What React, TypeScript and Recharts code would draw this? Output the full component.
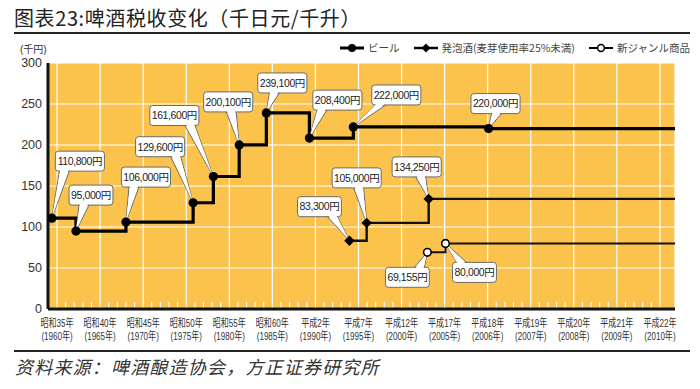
import React from "react";
import {
  LineChart,
  Line,
  XAxis,
  YAxis,
  CartesianGrid,
  ReferenceLine
} from "recharts";

// x axis categories (evenly spaced, not to time scale)
const eraLabels = [
  "昭和35年", "昭和40年", "昭和45年", "昭和50年", "昭和55年", "昭和60年",
  "平成2年", "平成7年", "平成12年", "平成17年", "平成18年", "平成19年",
  "平成20年", "平成21年", "平成22年"
];
const yearLabels = [
  "(1960年)", "(1965年)", "(1970年)", "(1975年)", "(1980年)", "(1985年)",
  "(1990年)", "(1995年)", "(2000年)", "(2005年)", "(2006年)", "(2007年)",
  "(2008年)", "(2009年)", "(2010年)"
];
const yTicks = [0, 50, 100, 150, 200, 250, 300];

// ビール
const beerX = [-0.12, 0.44, 1.6, 3.16, 3.63, 4.23, 4.86, 5.86, 6.88, 10.02, 14.35];
const beerY = [110.8, 95, 106, 129.6, 161.6, 200.1, 239.1, 208.4, 222, 220, 220];
const beerLabels = [
  "110,800円", "95,000円", "106,000円", "129,600円", "161,600円", "200,100円",
  "239,100円", "208,400円", "222,000円", "220,000円", ""
];

// 発泡酒
const happoX = [6.79, 7.19, 8.63, 14.35];
const happoY = [83.3, 105, 134.25, 134.25];
const happoLabels = ["83,300円", "105,000円", "134,250円", ""];

// 新ジャンル商品
const newX = [8.6, 9.02, 14.35];
const newY = [69.155, 80, 80];
const newLabels = ["69,155円", "80,000円", ""];

// where each callout box sits relative to its point (px)
const calloutOffsets: Record<string, [number, number]> = {
  "110,800円": [28, -57],
  "95,000円": [15, -36],
  "106,000円": [20, -45],
  "129,600円": [-33, -56],
  "161,600円": [-39, -61],
  "200,100円": [-11, -43],
  "239,100円": [16, -30],
  "208,400円": [28, -38],
  "222,000円": [43, -32],
  "220,000円": [7, -25],
  "83,300円": [-30, -34],
  "105,000円": [-10, -45],
  "134,250円": [-12, -32],
  "69,155円": [-20, 25],
  "80,000円": [29, 29]
};

const ORANGE = "#FBC24C";
const FONT = "'Liberation Sans', 'Noto Sans CJK JP', sans-serif";
const CJK = "'Noto Sans CJK SC', 'Noto Sans CJK JP', sans-serif";

const toRows = (xs: number[], ys: number[], labels: string[]) =>
  xs.map((x, i) => ({ x, y: ys[i], label: labels[i] }));

const beerData = toRows(beerX, beerY, beerLabels);
const happoData = toRows(happoX, happoY, happoLabels);
const newData = toRows(newX, newY, newLabels);

const xTicks = eraLabels.map((_, i) => i);
const minorTicks: number[] = [];
for (let i = 0; i < eraLabels.length - 1; i++) {
  for (let k = 1; k < 5; k++) minorTicks.push(i + k / 5);
}

function textWidth(s: string) {
  let w = 0;
  for (const c of s) {
    if (/[0-9]/.test(c)) w += 5.2;
    else if (c === ",") w += 2.4;
    else if (c === "(" || c === ")") w += 3.5;
    else w += 9.5;
  }
  return w;
}

function Callout({ px, py, text }: { px: number; py: number; text: string }) {
  const off = calloutOffsets[text];
  if (!off) return null;
  const [dx, dy] = off;
  const w = textWidth(text) + 6;
  const h = 20;
  const cx = px + dx;
  const cy = py + dy;
  const left = cx - w / 2;
  const right = cx + w / 2;
  const lean = dx > 0 ? 8 : -8;
  const bx = Math.max(left + 9, Math.min(right - 9, px + lean));
  const by = dy < 0 ? cy + h / 2 : cy - h / 2;
  const inset = dy < 0 ? -1.2 : 1.2;
  const tail = `${bx - 5},${by} ${bx + 5},${by} ${px},${py}`;
  const tailInner = `${bx - 4},${by + inset} ${bx + 4},${by + inset} ${px},${py}`;
  return (
    <g>
      <polygon points={tail} fill="#fff" stroke="#6b6b6b" strokeWidth={1} />
      <rect x={left} y={cy - h / 2} width={w} height={h} rx={3} fill="#fff" stroke="#6b6b6b" strokeWidth={1} />
      <polygon points={tailInner} fill="#fff" />
      <text
        x={cx}
        y={cy + 3.8}
        textAnchor="middle"
        fontSize={10.5}
        fontFamily={FONT}
        fill="#222"
        letterSpacing={-0.4}
      >
        {text}
      </text>
    </g>
  );
}

function makeDot(kind: "circle" | "diamond" | "open") {
  return (props: any) => {
    const { cx, cy, payload, index } = props;
    if (!payload || !payload.label) return <g key={`d-${kind}-${index}`} />;
    let mark;
    if (kind === "circle") mark = <circle cx={cx} cy={cy} r={4.6} fill="#000" />;
    else if (kind === "diamond")
      mark = (
        <polygon
          points={`${cx},${cy - 5.2} ${cx + 5.2},${cy} ${cx},${cy + 5.2} ${cx - 5.2},${cy}`}
          fill="#000"
        />
      );
    else mark = <circle cx={cx} cy={cy} r={3.8} fill="#fff" stroke="#000" strokeWidth={1.6} />;
    return (
      <g key={`d-${kind}-${index}`}>
        <Callout px={cx} py={cy} text={payload.label} />
        {mark}
      </g>
    );
  };
}

// condensed two-line category label
function XTick(props: any) {
  const { x, y, payload } = props;
  const i = payload.value;
  const era = eraLabels[i];
  const yr = yearLabels[i];
  if (era === undefined) return null;
  return (
    <g transform={`translate(${x},${y}) scale(0.7,1)`}>
      <text y={18} textAnchor="middle" fontSize={11.5} fontFamily={FONT} fill="#333">
        {era}
      </text>
      <text y={31.5} textAnchor="middle" fontSize={11.5} fontFamily={FONT} fill="#333">
        {yr}
      </text>
    </g>
  );
}

function LegendItem({ kind, label }: { kind: "circle" | "diamond" | "open"; label: string }) {
  const sw = kind === "circle" ? 3 : kind === "diamond" ? 2.4 : 2;
  return (
    <span style={{ display: "inline-flex", alignItems: "center", marginRight: 14 }}>
      <svg width={24} height={12} style={{ marginRight: 4 }}>
        <line x1={0} y1={6} x2={24} y2={6} stroke="#000" strokeWidth={sw} />
        {kind === "circle" && <circle cx={12} cy={6} r={4} fill="#000" />}
        {kind === "diamond" && <polygon points="12,1.5 16.5,6 12,10.5 7.5,6" fill="#000" />}
        {kind === "open" && <circle cx={12} cy={6} r={3.4} fill="#fff" stroke="#000" strokeWidth={1.5} />}
      </svg>
      <span>{label}</span>
    </span>
  );
}

export default function App() {
  return (
    <div
      style={{
        position: "absolute",
        left: 0,
        top: 0,
        width: 700,
        height: 389,
        background: "#fff",
        overflow: "hidden"
      }}
    >
      <div
        style={{
          position: "absolute",
          left: 14,
          top: 5,
          fontFamily: CJK,
          fontSize: 20,
          letterSpacing: 0.6,
          lineHeight: "26px",
          color: "#222",
          whiteSpace: "nowrap"
        }}
      >
        图表23:啤酒税收变化（千日元/千升）
      </div>
      <div style={{ position: "absolute", left: 14, top: 32, width: 676, height: 2, background: "#222" }} />

      <div
        style={{
          position: "absolute",
          left: 20,
          top: 41,
          fontFamily: FONT,
          fontSize: 10,
          color: "#333"
        }}
      >
        (千円)
      </div>

      <div
        style={{
          position: "absolute",
          left: 340,
          top: 41,
          fontFamily: "'Noto Sans CJK JP', sans-serif",
          fontSize: 10.5,
          lineHeight: "14px",
          color: "#444",
          whiteSpace: "nowrap",
          display: "flex"
        }}
      >
        <LegendItem kind="circle" label="ビール" />
        <LegendItem kind="diamond" label="発泡酒(麦芽使用率25%未満)" />
        <LegendItem kind="open" label="新ジャンル商品" />
      </div>

      <div style={{ position: "absolute", left: 0, top: 0 }}>
        <LineChart
          width={700}
          height={389}
          margin={{ top: 63, right: 25, bottom: 40, left: 0 }}
        >
          <CartesianGrid fill={ORANGE} stroke="#fff" strokeWidth={1.2} />
          <XAxis
            type="number"
            dataKey="x"
            domain={[-0.21, 14.35]}
            allowDataOverflow
            ticks={xTicks}
            interval={0}
            height={40}
            tick={<XTick />}
            tickLine={false}
            tickSize={0}
            tickMargin={0}
            axisLine={{ stroke: "#111", strokeWidth: 3 }}
          />
          <YAxis
            type="number"
            domain={[0, 300]}
            ticks={yTicks}
            width={48}
            tickLine={false}
            tickSize={0}
            tickMargin={6}
            axisLine={{ stroke: "#111", strokeWidth: 3 }}
            tick={{ fill: "#333", fontSize: 12.5, fontFamily: FONT }}
          />
          {minorTicks.map((m) => (
            <ReferenceLine
              key={m}
              segment={[{ x: m, y: 1.5 }, { x: m, y: 8.5 }]}
              stroke="#fff"
              strokeWidth={1.2}
            />
          ))}
          <Line
            data={newData}
            dataKey="y"
            type="stepAfter"
            stroke="#111"
            strokeWidth={2}
            dot={makeDot("open")}
            activeDot={false}
            isAnimationActive={false}
          />
          <Line
            data={happoData}
            dataKey="y"
            type="stepAfter"
            stroke="#111"
            strokeWidth={2.4}
            dot={makeDot("diamond")}
            activeDot={false}
            isAnimationActive={false}
          />
          <Line
            data={beerData}
            dataKey="y"
            type="stepAfter"
            stroke="#000"
            strokeWidth={3.2}
            dot={makeDot("circle")}
            activeDot={false}
            isAnimationActive={false}
          />
        </LineChart>
      </div>

      <div style={{ position: "absolute", left: 14, top: 350, width: 676, height: 2, background: "#222" }} />
      <div
        style={{
          position: "absolute",
          left: 15,
          top: 354,
          fontFamily: CJK,
          fontSize: 18,
          letterSpacing: 1.2,
          lineHeight: "24px",
          fontStyle: "italic",
          color: "#333",
          whiteSpace: "nowrap"
        }}
      >
        资料来源：啤酒酿造协会，方正证券研究所
      </div>
    </div>
  );
}
